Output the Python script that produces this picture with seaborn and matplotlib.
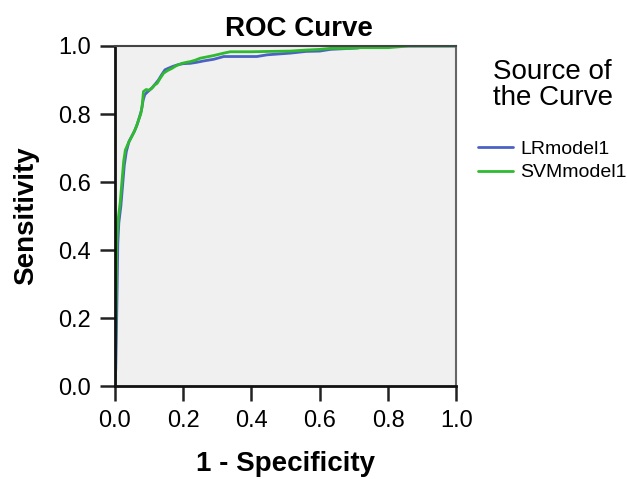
import matplotlib
matplotlib.use("Agg")
import matplotlib.pyplot as plt
import seaborn as sns
import pandas as pd

# ROC points
lr_fpr = [0, 0.003, 0.006, 0.009, 0.012, 0.018, 0.023, 0.028, 0.034, 0.042, 0.050, 0.058,
          0.066, 0.072, 0.078, 0.083, 0.088, 0.096, 0.104, 0.112, 0.120, 0.128, 0.137, 0.147,
          0.158, 0.170, 0.185, 0.200, 0.221, 0.240, 0.260, 0.290, 0.319, 0.360, 0.416, 0.446,
          0.514, 0.560, 0.600, 0.631, 0.670, 0.709, 0.750, 0.800, 1.0]
lr_tpr = [0, 0.05, 0.22, 0.42, 0.48, 0.53, 0.59, 0.65, 0.69, 0.72, 0.735, 0.75,
          0.77, 0.79, 0.81, 0.84, 0.857, 0.865, 0.872, 0.88, 0.89, 0.90, 0.915, 0.93,
          0.935, 0.94, 0.945, 0.948, 0.949, 0.952, 0.956, 0.961, 0.969, 0.969, 0.969, 0.974,
          0.979, 0.984, 0.985, 0.990, 0.992, 0.994, 1.0, 1.0, 1.0]

svm_fpr = [0, 0.002, 0.004, 0.006, 0.010, 0.016, 0.021, 0.026, 0.031, 0.040, 0.048, 0.055,
           0.062, 0.070, 0.076, 0.080, 0.084, 0.092, 0.100, 0.109, 0.116, 0.124, 0.133, 0.143,
           0.155, 0.167, 0.180, 0.197, 0.210, 0.221, 0.235, 0.250, 0.270, 0.290, 0.319, 0.338,
           0.400, 0.450, 0.514, 0.560, 0.600, 0.631, 0.680, 0.720, 0.800, 0.860, 0.900, 1.0]
svm_tpr = [0, 0.06, 0.25, 0.42, 0.49, 0.54, 0.60, 0.66, 0.694, 0.715, 0.73, 0.744,
           0.76, 0.783, 0.80, 0.822, 0.866, 0.872, 0.87, 0.876, 0.885, 0.890, 0.905, 0.920,
           0.928, 0.934, 0.942, 0.949, 0.952, 0.954, 0.958, 0.964, 0.968, 0.972, 0.979, 0.983,
           0.983, 0.984, 0.985, 0.988, 0.990, 0.993, 0.993, 0.995, 0.995, 1.0, 1.0, 1.0]

ticks = [0.0, 0.2, 0.4, 0.6, 0.8, 1.0]

lr = pd.DataFrame({"fpr": lr_fpr, "tpr": lr_tpr, "Source": "LRmodel1"})
svm = pd.DataFrame({"fpr": svm_fpr, "tpr": svm_tpr, "Source": "SVMmodel1"})
roc = pd.concat([lr, svm], ignore_index=True)

sns.set_style("ticks")
plt.rcParams['font.family'] = ['Liberation Sans', 'DejaVu Sans']
plt.rcParams.update({"text.color": "black", "axes.labelcolor": "black",
                     "xtick.color": "black", "ytick.color": "black"})

fig = plt.figure(figsize=(6.27, 4.79), dpi=100)
ax = fig.add_axes([0.183, 0.194, 0.545, 0.710])
ax.set_facecolor("#f0f0f0")

sns.lineplot(data=roc, x="fpr", y="tpr", hue="Source", sort=False, estimator=None,
             palette=["#4b62c4", "#2fba2f"], linewidth=2, ax=ax)

ax.set_xlim(0, 1)
ax.set_ylim(0, 1)
ax.set_xticks(ticks)
ax.set_yticks(ticks)
ax.set_xticklabels([f"{t:.1f}" for t in ticks])
ax.set_yticklabels([f"{t:.1f}" for t in ticks])
ax.tick_params(axis="both", labelsize=17, length=11, width=1.8, color="#222222", pad=6)

for side in ["left", "bottom"]:
    ax.spines[side].set_linewidth(2)
    ax.spines[side].set_color("#111111")
ax.spines["top"].set_linewidth(1.5)
ax.spines["top"].set_color("#444444")
ax.spines["right"].set_linewidth(1.5)
ax.spines["right"].set_color("#666666")

ax.set_title("ROC Curve", fontsize=20, fontweight="bold", pad=7, x=0.54)
ax.set_xlabel("1 - Specificity", fontsize=20, fontweight="bold", labelpad=14)
ax.set_ylabel("Sensitivity", fontsize=20, fontweight="bold", labelpad=14)

# legend title sits a little right of the handles, as in the reference
fig.text(0.786, 0.876, "Source of\nthe Curve", fontsize=20, ha="left", va="top",
         linespacing=1.0)
leg = ax.legend(loc="upper left", bbox_to_anchor=(0.762, 0.707),
                bbox_transform=fig.transFigure, frameon=False, fontsize=14,
                handlelength=1.8, handletextpad=0.4, labelspacing=0.3,
                borderaxespad=0, borderpad=0)

fig.savefig("out.png", dpi=100)
